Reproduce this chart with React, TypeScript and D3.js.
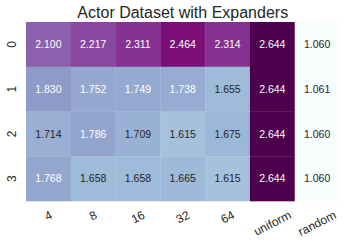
import React from "react";
import * as d3 from "d3";

const title = "Actor Dataset with Expanders";
const rowLabels = ["0", "1", "2", "3"];
const colLabels = ["4", "8", "16", "32", "64", "uniform", "random"];
const row0 = [2.1, 2.217, 2.311, 2.464, 2.314, 2.644, 1.06];
const row1 = [1.83, 1.752, 1.749, 1.738, 1.655, 2.644, 1.061];
const row2 = [1.714, 1.786, 1.709, 1.615, 1.675, 2.644, 1.06];
const row3 = [1.768, 1.658, 1.658, 1.665, 1.615, 2.644, 1.06];
const values = [row0, row1, row2, row3];
const buPu = ["#f7fcfd", "#e0ecf4", "#bfd3e6", "#9ebcda", "#8c96c6", "#8c6bb1", "#88419d", "#810f7c", "#4d004b"];

const W = 346, H = 249;
const FONT = "'Liberation Sans', Arial, sans-serif";

function measure(text: string, size: number): number {
  const c = document.createElement("canvas").getContext("2d");
  if (!c) return text.length * size * 0.55;
  c.font = `${size}px ${FONT}`;
  return c.measureText(text).width;
}

function luminance(col: string): number {
  const c = d3.rgb(col);
  const lin = [c.r, c.g, c.b].map((v) => {
    const x = v / 255;
    return x <= 0.03928 ? x / 12.92 : Math.pow((x + 0.055) / 1.055, 2.4);
  });
  return 0.2126 * lin[0] + 0.7152 * lin[1] + 0.0722 * lin[2];
}

export default function App() {
  const all = values.flat();
  const vmin = d3.min(all) as number;
  const vmax = d3.max(all) as number;
  const stops = buPu.map((_, i) => vmin + ((vmax - vmin) * i) / (buPu.length - 1));
  const color = d3.scaleLinear<string>().domain(stops).range(buPu).interpolate(d3.interpolateRgb).clamp(true);

  const x = d3.scaleBand().domain(colLabels).range([26, 339.5]).padding(0);
  const y = d3.scaleBand().domain(rowLabels).range([22, 201]).padding(0);
  const angle = 27;
  const sinA = Math.sin((angle * Math.PI) / 180);

  return (
    <svg width={W} height={H} style={{ position: "absolute", left: 0, top: 0 }} fontFamily={FONT}>
      <rect width={W} height={H} fill="#fff" />
      <text x={(26 + 339.5) / 2} y={18} textAnchor="middle" fontSize={16} fill="#262626">
        {title}
      </text>
      {values.map((row, ri) =>
        row.map((v, ci) => {
          const fill = color(v);
          const tc = luminance(fill) > 0.408 ? "#262626" : "#ffffff";
          const cx = (x(colLabels[ci]) as number) + x.bandwidth() / 2;
          const cy = (y(rowLabels[ri]) as number) + y.bandwidth() / 2;
          return (
            <g key={`${ri}-${ci}`}>
              <rect
                x={x(colLabels[ci])}
                y={y(rowLabels[ri])}
                width={x.bandwidth() + 0.3}
                height={y.bandwidth() + 0.3}
                fill={fill}
              />
              <text x={cx} y={cy} dy="0.35em" textAnchor="middle" fontSize={10.5} fill={tc}>
                {v.toFixed(3)}
              </text>
            </g>
          );
        })
      )}
      {rowLabels.map((r) => {
        const cy = (y(r) as number) + y.bandwidth() / 2;
        const cx = 11.7;
        return (
          <text
            key={r}
            x={cx}
            y={cy}
            dy="0.35em"
            textAnchor="middle"
            fontSize={12}
            fill="#262626"
            transform={`rotate(-90 ${cx} ${cy})`}
          >
            {r}
          </text>
        );
      })}
      {colLabels.map((c) => {
        const cx = (x(c) as number) + x.bandwidth() / 2;
        const w = measure(c, 12);
        const cy = 214 + (w * sinA) / 2;
        return (
          <text
            key={c}
            x={cx}
            y={cy}
            dy="0.35em"
            textAnchor="middle"
            fontSize={12}
            fill="#262626"
            transform={`rotate(-${angle} ${cx} ${cy})`}
          >
            {c}
          </text>
        );
      })}
    </svg>
  );
}
